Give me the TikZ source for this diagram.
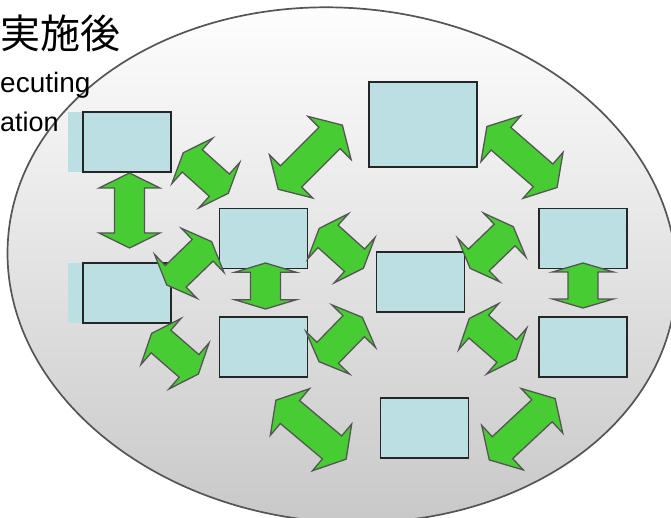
\documentclass[tikz,border=0pt]{standalone}
\usepackage{fontspec}
\setmainfont{Liberation Sans}
\newfontfamily\jpfont{Noto Sans CJK JP}
\definecolor{boxblue}{RGB}{187,223,227}
\definecolor{arrowgreen}{RGB}{72,204,51}
\definecolor{edgegray}{RGB}{85,85,85}
\begin{document}
\begin{tikzpicture}[x=1pt,y=-1pt]
  \tikzset{
    topic box/.style={draw=black!85,line width=1.2pt,fill=boxblue,inner sep=0pt,minimum width=88pt,minimum height=60pt},
    green arrow/.style={draw=edgegray,line width=1.3pt,fill=arrowgreen},
    pics/dblarrow/.style={code={
      \pgfmathsetmacro\arrhalf{#1/2}
      \pgfmathsetmacro\arrhead{0.2*#1}
      \draw[green arrow] (-\arrhalf,0) -- (-\arrhalf+\arrhead,30.5) -- (-\arrhalf+\arrhead,15)
        -- (\arrhalf-\arrhead,15) -- (\arrhalf-\arrhead,30.5) -- (\arrhalf,0)
        -- (\arrhalf-\arrhead,-30.5) -- (\arrhalf-\arrhead,-15)
        -- (-\arrhalf+\arrhead,-15) -- (-\arrhalf+\arrhead,-30.5) -- cycle;
    }}
  }
  \useasboundingbox (0,0) rectangle (671,518);

  % background
  \shade[draw=edgegray,line width=1.7pt,top color=white,bottom color=black!22,
    rotate around={-5:(342,265)}] (342,265) ellipse [x radius=335, y radius=257];

  \node[anchor=base west,inner sep=0pt,font=\jpfont\fontsize{40}{40}\selectfont] (title) at (0,49) {実施後};
  \node[anchor=base west,inner sep=0pt,font=\fontsize{28}{28}\selectfont] (line1) at (0,93) {ecuting};
  \node[anchor=base west,inner sep=0pt,font=\fontsize{27}{27}\selectfont] (line2) at (0,131.5) {ation};

  % boxes
  \fill[boxblue] (68,112) rectangle (84,172);
  \fill[boxblue] (68,263) rectangle (84,323);
  \node[topic box] (A) at (127,142) {};
  \node[topic box] (B) at (127,293) {};
  \node[topic box] (C) at (263.5,238.5) {};
  \node[topic box] (D) at (263.5,347) {};
  \node[topic box] (E) at (420.5,282) {};
  \node[topic box,minimum width=108pt,minimum height=85pt] (F) at (423,124.5) {};
  \node[topic box] (G) at (583,238.5) {};
  \node[topic box] (H) at (583,347) {};
  \node[topic box] (I) at (424.5,428) {};

  % arrows
  \pic[rotate=90] (AB) at (129.5,210.5) {dblarrow=75};
  \pic[rotate=90] (CD) at (265.5,286) {dblarrow=46};
  \pic[rotate=90] (GH) at (583,285.5) {dblarrow=45};
  \pic[rotate=-42] (AC) at (205.8,173) {dblarrow=60.6};
  \pic[rotate=44] (BC) at (189.2,263.3) {dblarrow=62.4};
  \pic[rotate=-41] (BD) at (175,353.7) {dblarrow=62};
  \pic[rotate=45] (CF) at (310.3,157.2) {dblarrow=90.7};
  \pic[rotate=-41] (FG) at (522,157) {dblarrow=93};
  \pic[rotate=-42] (CE) at (341.3,248.3) {dblarrow=59.5};
  \pic[rotate=45.7] (DE) at (340.7,339.5) {dblarrow=62};
  \pic[rotate=44] (EG) at (491.7,247.5) {dblarrow=60};
  \pic[rotate=-41] (EH) at (492.7,338.8) {dblarrow=62};
  \pic[rotate=-40] (DI) at (311,429.7) {dblarrow=91.7};
  \pic[rotate=43] (IH) at (522.2,429.2) {dblarrow=90};
\end{tikzpicture}
\end{document}
